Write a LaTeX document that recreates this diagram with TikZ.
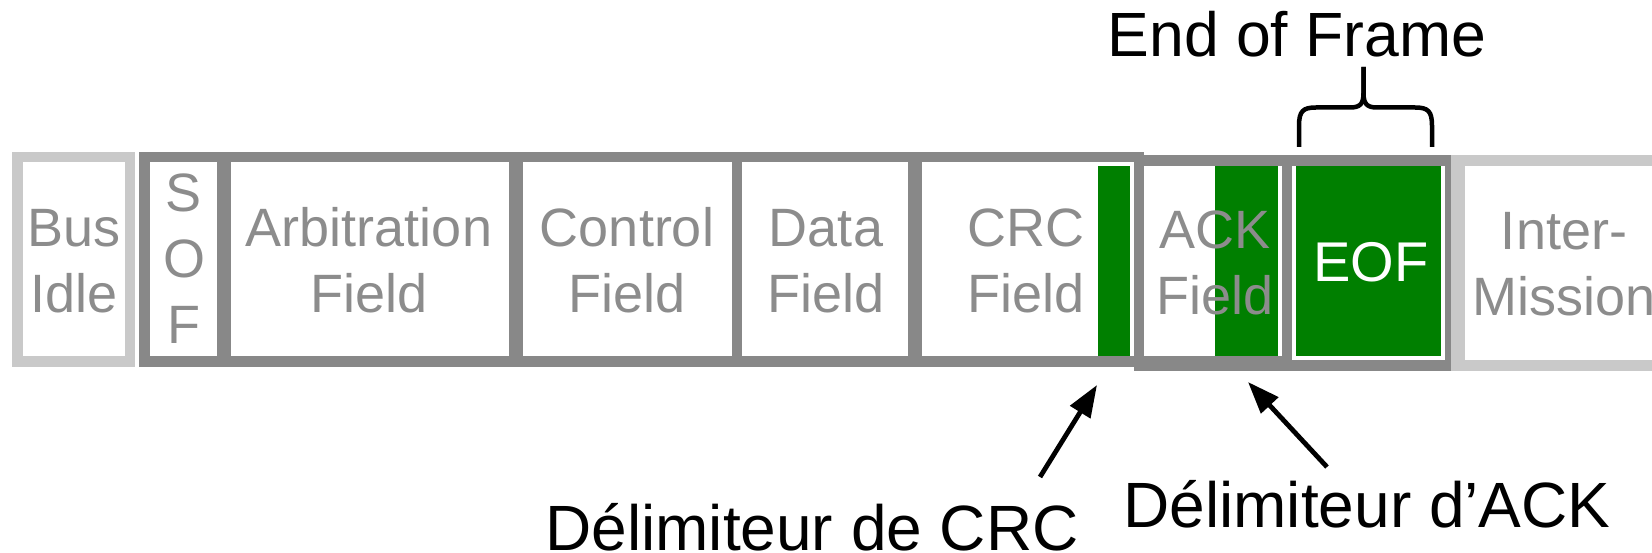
\documentclass[tikz,border=0pt]{standalone}
\usepackage{fontspec}
\setmainfont{Liberation Sans}
\usetikzlibrary{arrows.meta}
\definecolor{framegray}{HTML}{888888}
\definecolor{idlegray}{HTML}{C9C9C9}
\definecolor{labelgray}{HTML}{8C8C8C}
\definecolor{bitgreen}{HTML}{007F00}
% centred lines whose node baseline is the first line's baseline
\newcommand\stacklines[1]{\begin{tabular}[t]{@{}c@{}}#1\end{tabular}}

\begin{document}
\begin{tikzpicture}[x=1pt,y=-1pt,
  field/.style={anchor=base, inner sep=0pt, text=labelgray, font=\fontsize{54}{66}\selectfont},
  callout/.style={anchor=base, inner sep=0pt, font=\fontsize{64}{76}\selectfont},
  pointer/.style={line width=4.8pt, -{Triangle[length=32pt,width=23pt]}},
  brace/.style={line width=4.5pt, line cap=butt, line join=round}]
\useasboundingbox (0,0) rectangle (1652,553);
\clip (0,0) rectangle (1652,553);

% bus idle
\fill[idlegray] (12,152) rectangle (135,367);
\fill[white] (23,162) rectangle (125,356);

% data frame: SOF to CRC
\fill[framegray] (139,152) rectangle (1144,367);
\fill[white] (150,162) rectangle (217,356);
\fill[white] (231,162) rectangle (509,356);
\fill[white] (523,162) rectangle (732,356);
\fill[white] (742,162) rectangle (908,356);
\fill[white] (922,162) rectangle (1134,356);
\fill[bitgreen] (1098,166) rectangle (1130,356);

% ACK field and end of frame
\fill[framegray] (1134,155) rectangle (1451,371);
\fill[white] (1144,166) rectangle (1282,356);
\fill[bitgreen] (1215,166) rectangle (1278,356);
\fill[white] (1292,166) rectangle (1445,360);
\fill[bitgreen] (1296,166) rectangle (1441,356);

% intermission
\fill[idlegray] (1451,155) rectangle (1700,371);
\fill[white] (1465,166) rectangle (1700,360);

% field names
\node[field] (busidle) at (74,247) {\stacklines{Bus\\Idle}};
\node[field] (sof) at (184,212) {\stacklines{S\\O\\F}};
\node[field] (arbitration) at (369,247) {\stacklines{Arbitration\\Field}};
\node[field] (control) at (627,247) {\stacklines{Control\\Field}};
\node[field] (data) at (826,247) {\stacklines{Data\\Field}};
\node[field] (crc) at (1026,247) {\stacklines{CRC\\Field}};
\node[field] (ack) at (1215,249) {\stacklines{ACK\\Field}};
\node[field, text=white, font=\fontsize{56}{66}\selectfont] (eof) at (1371,282) {EOF};
\node[field] (intermission) at (1564,250) {\stacklines{Inter-\\Mission}};

% end of frame brace and title
\node[callout, font=\fontsize{62.5}{72}\selectfont] (eoftitle) at (1297,57) {End of Frame};
\coordinate (bracetip) at (1363.5,67);
\draw[brace] (1299,147) -- (1299,126) .. controls (1299,111) and (1303,107.5) .. (1316,107.5)
  -- (1350,107.5) .. controls (1360,107.5) and (1363.5,104) .. (1363.5,93) -- (bracetip);
\draw[brace] (1432,147) -- (1432,126) .. controls (1432,111) and (1428,107.5) .. (1415,107.5)
  -- (1377,107.5) .. controls (1367,107.5) and (1363.5,104) .. (1363.5,93) -- (bracetip);

% delimiter callouts
\node[callout] (crcdelimlabel) at (812,550) {Délimiteur de CRC};
\node[callout] (ackdelimlabel) at (1367,527) {Délimiteur d’ACK};
\coordinate (crctail) at (1040,477);
\coordinate (crcdelim) at (1097,385);
\coordinate (acktail) at (1327,467);
\coordinate (ackdelim) at (1248,382);
\draw[pointer] (crctail) -- (crcdelim);
\draw[pointer] (acktail) -- (ackdelim);
\end{tikzpicture}
\end{document}
